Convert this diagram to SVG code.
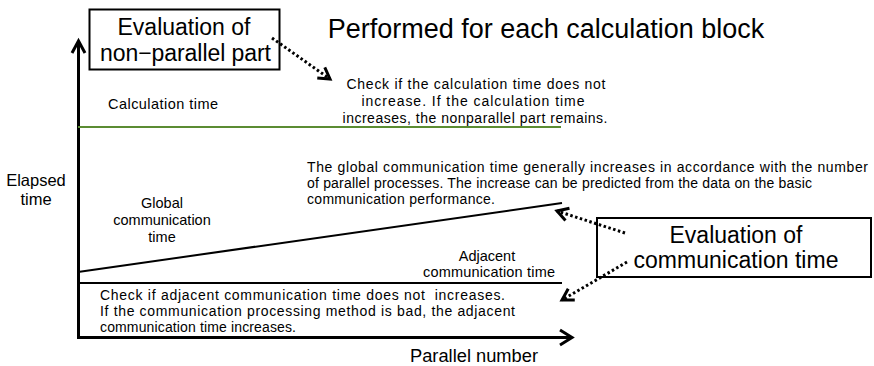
<svg xmlns="http://www.w3.org/2000/svg" width="874" height="366" viewBox="0 0 874 366">
  <style>
    text { font-family: "Liberation Sans", Arial, sans-serif; fill: #000; }
    .box { fill: #fff; stroke: #000; stroke-width: 2; }
    .big { font-size: 23px; text-anchor: middle; }
    .note { font-size: 14px; }
    .lbl { font-size: 14.5px; }
    .mid { text-anchor: middle; }
    .axis { stroke: #000; stroke-width: 3; fill: none; }
    .series { stroke: #000; stroke-width: 2; fill: none; }
    .dotted { stroke: #000; stroke-width: 3; stroke-dasharray: 2.5 2.5; fill: none; marker-end: url(#chev); }
  </style>
  <defs>
    <marker id="chev" markerUnits="userSpaceOnUse" markerWidth="18" markerHeight="18" refX="13" refY="8" orient="auto" overflow="visible">
      <path d="M2,1.5 L13,8 L2,14.5" fill="none" stroke="#000" stroke-width="3" stroke-linejoin="miter"/>
    </marker>
  </defs>

  <rect width="874" height="366" fill="#fff"/>

  <!-- axes -->
  <g id="axes">
    <line class="axis" x1="78.5" y1="339" x2="78.5" y2="41"/>
    <polyline class="axis" points="72,53 78.5,41 85,53"/>
    <line class="axis" x1="77" y1="337.5" x2="571" y2="337.5"/>
    <polyline class="axis" points="560,330 572,337.5 560,345"/>
    <text x="36" y="186" font-size="16.5" text-anchor="middle">Elapsed</text>
    <text x="36" y="205" font-size="16.5" text-anchor="middle">time</text>
    <text x="474" y="362" font-size="18.3" text-anchor="middle">Parallel number</text>
  </g>

  <!-- time components -->
  <g id="calculation-time">
    <line x1="78" y1="127" x2="561" y2="127" stroke="#5b8c32" stroke-width="2"/>
    <text class="lbl" x="108" y="109" textLength="110">Calculation time</text>
  </g>
  <g id="global-communication-time">
    <line class="series" x1="78" y1="272" x2="562" y2="203"/>
    <text class="lbl mid" x="162" y="208">Global</text>
    <text class="lbl mid" x="162" y="225">communication</text>
    <text class="lbl mid" x="162" y="242">time</text>
  </g>
  <g id="adjacent-communication-time">
    <line class="series" x1="78" y1="283" x2="562" y2="283"/>
    <text class="lbl mid" x="487" y="261">Adjacent</text>
    <text class="lbl mid" x="489" y="277" textLength="132">communication time</text>
  </g>

  <!-- explanatory notes -->
  <g id="note-calculation" class="note">
    <text class="mid" x="476" y="89" textLength="259">Check if the calculation time does not</text>
    <text class="mid" x="473" y="106" textLength="223">increase. If the calculation time</text>
    <text class="mid" x="475" y="123" textLength="265">increases, the nonparallel part remains.</text>
  </g>
  <g id="note-global" class="note">
    <text x="307" y="172" textLength="561">The global communication time generally increases in accordance with the number</text>
    <text x="307" y="188" textLength="505">of parallel processes. The increase can be predicted from the data on the basic</text>
    <text x="307" y="204" textLength="188">communication performance.</text>
  </g>
  <g id="note-adjacent" class="note">
    <text x="100" y="300" textLength="405">Check if adjacent communication time does not&#160; increases.</text>
    <text x="100" y="316" textLength="415">If the communication processing method is bad, the adjacent</text>
    <text x="100" y="332" textLength="196">communication time increases.</text>
  </g>

  <!-- title -->
  <g id="title">
    <text x="546" y="38" font-size="27" text-anchor="middle">Performed for each calculation block</text>
  </g>

  <!-- evaluation boxes -->
  <g id="eval-nonparallel">
    <rect class="box" x="89.5" y="9.5" width="190" height="60"/>
    <text class="big" x="184" y="35">Evaluation of</text>
    <text class="big" x="185.5" y="61" textLength="171">non−parallel part</text>
  </g>
  <g id="eval-communication">
    <rect class="box" x="597" y="218" width="274" height="59"/>
    <text class="big" x="736" y="243">Evaluation of</text>
    <text class="big" x="736" y="268" textLength="205">communication time</text>
  </g>

  <!-- dotted pointers -->
  <g id="connectors">
    <line class="dotted" x1="272" y1="38" x2="330" y2="79"/>
    <line class="dotted" x1="625" y1="233" x2="557" y2="211"/>
    <line class="dotted" x1="627" y1="262" x2="562" y2="300"/>
  </g>
</svg>
